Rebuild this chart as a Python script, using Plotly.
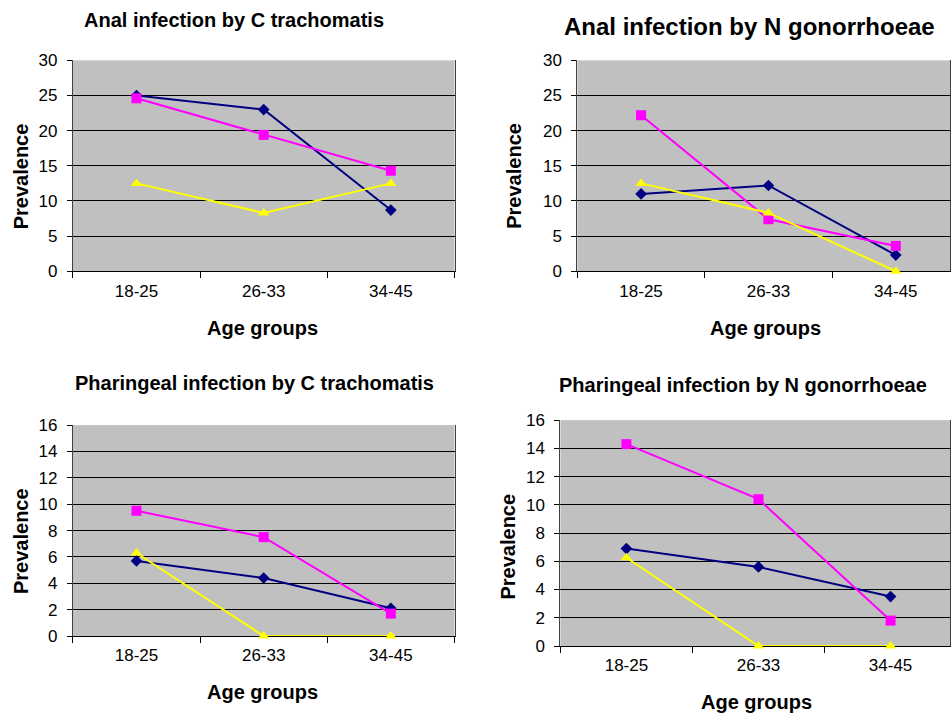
import plotly.graph_objects as go

W, H = 951, 714

categories = ["18-25", "26-33", "34-45"]

anal_ct_navy = [25.0, 23.0, 8.7]
anal_ct_magenta = [24.6, 19.4, 14.3]
anal_ct_yellow = [12.5, 8.3, 12.5]

anal_ng_navy = [11.0, 12.2, 2.3]
anal_ng_magenta = [22.2, 7.4, 3.6]
anal_ng_yellow = [12.5, 8.3, 0.0]

phar_ct_navy = [5.7, 4.4, 2.1]
phar_ct_magenta = [9.5, 7.5, 1.7]
phar_ct_yellow = [6.3, 0.0, 0.0]

phar_ng_navy = [6.9, 5.6, 3.5]
phar_ng_magenta = [14.3, 10.4, 1.8]
phar_ng_yellow = [6.25, 0.0, 0.0]

titles = [
    "Anal infection by C trachomatis",
    "Anal infection by N gonorrhoeae",
    "Pharingeal infection by C trachomatis",
    "Pharingeal infection by N gonorrhoeae",
]
y_title = "Prevalence"
x_title = "Age groups"

FONT = "Liberation Sans, Arial, sans-serif"

# vertical mapping of the capture (measured): shown_y = OFF + SC * page_y
OFF, SC = 8.6, 0.974


def py(t):
    """paper y fraction for a target pixel row in the final picture"""
    return 1 - ((t - OFF) / SC) / H


panels = [
    dict(data=(anal_ct_navy, anal_ct_magenta, anal_ct_yellow), box=(73, 60, 455, 271), cw=127.3,
         yr=[0, 30], dt=5, title=(234, 20, 20), ytit=(21, 176), xtit=(263, 328)),
    dict(data=(anal_ng_navy, anal_ng_magenta, anal_ng_yellow), box=(578, 60, 951, 271), cw=127.5,
         yr=[0, 30], dt=5, title=(750, 26, 24), ytit=(515, 175), xtit=(766, 328)),
    dict(data=(phar_ct_navy, phar_ct_magenta, phar_ct_yellow), box=(73, 425, 455, 636), cw=127.3,
         yr=[0, 16], dt=2, title=(255, 383, 20), ytit=(21, 541), xtit=(263, 692)),
    dict(data=(phar_ng_navy, phar_ng_magenta, phar_ng_yellow), box=(561, 420, 951, 646), cw=132.2,
         yr=[0, 16], dt=2, title=(744, 385, 20), ytit=(509, 546), xtit=(757, 702)),
]

styles = [
    dict(color="#000080", symbol="diamond", size=9),
    dict(color="#FF00FF", symbol="square", size=10),
    dict(color="#FFFF00", symbol="triangle-up", size=10),
]

fig = go.Figure()
annotations = []
layout = {}
for i, p in enumerate(panels):
    n = i + 1
    xa = "x" if n == 1 else f"x{n}"
    ya = "y" if n == 1 else f"y{n}"
    for vals, st in zip(p["data"], styles):
        fig.add_trace(go.Scatter(
            x=categories, y=vals, xaxis=xa, yaxis=ya, mode="lines+markers",
            line=dict(color=st["color"], width=2),
            marker=dict(color=st["color"], symbol=st["symbol"], size=st["size"], line=dict(width=0)),
            cliponaxis=False, showlegend=False,
        ))
    l, t, r, b = p["box"]
    xmax = -0.5 + (r - l) / p["cw"]
    layout["xaxis" if n == 1 else f"xaxis{n}"] = dict(
        domain=[l / W, min(r / W, 1)], anchor=ya, type="category", range=[-0.5, xmax],
        tickson="boundaries", ticks="outside", ticklen=6, tickcolor="black", tickwidth=1,
        showline=True, linecolor="black", linewidth=1, showgrid=False, zeroline=False,
        tickfont=dict(family=FONT, size=17, color="black"), ticklabelstandoff=4,
        layer="below traces", fixedrange=True,
    )
    layout["yaxis" if n == 1 else f"yaxis{n}"] = dict(
        domain=[py(b), py(t)], anchor=xa, range=p["yr"], dtick=p["dt"],
        ticks="outside", ticklen=5, tickcolor="black", tickwidth=1,
        showline=True, linecolor="#404040", linewidth=1, mirror=True,
        showgrid=True, gridcolor="black", gridwidth=1, zeroline=False,
        tickfont=dict(family=FONT, size=17, color="black"), ticklabelstandoff=6,
        layer="below traces", fixedrange=True,
    )
    tx, ty, ts = p["title"]
    annotations.append(dict(text=f"<b>{titles[i]}</b>", x=tx / W, y=py(ty), xref="paper", yref="paper",
                            xanchor="center", yanchor="middle", showarrow=False,
                            font=dict(family=FONT, size=ts, color="black")))
    ax, ay = p["ytit"]
    annotations.append(dict(text=f"<b>{y_title}</b>", x=ax / W, y=py(ay), xref="paper", yref="paper",
                            xanchor="center", yanchor="middle", showarrow=False, textangle=-90,
                            font=dict(family=FONT, size=20, color="black")))
    bx, by = p["xtit"]
    annotations.append(dict(text=f"<b>{x_title}</b>", x=bx / W, y=py(by), xref="paper", yref="paper",
                            xanchor="center", yanchor="middle", showarrow=False,
                            font=dict(family=FONT, size=20, color="black")))

fig.update_layout(
    width=W, height=H, autosize=False,
    margin=dict(l=0, r=0, t=0, b=0),
    paper_bgcolor="white", plot_bgcolor="#C0C0C0",
    annotations=annotations, showlegend=False,
    **layout,
)

fig.write_html(
    "out.html",
    config={"displayModeBar": False, "staticPlot": True},
    post_script=(
        "document.documentElement.style.margin='0';"
        "document.documentElement.style.overflow='hidden';"
        "document.body.style.margin='0';"
        "document.body.style.overflow='hidden';"
        "var gd=document.getElementById('{plot_id}');"
        "gd.style.position='fixed';gd.style.top='0px';gd.style.left='0px';"
    ),
)
